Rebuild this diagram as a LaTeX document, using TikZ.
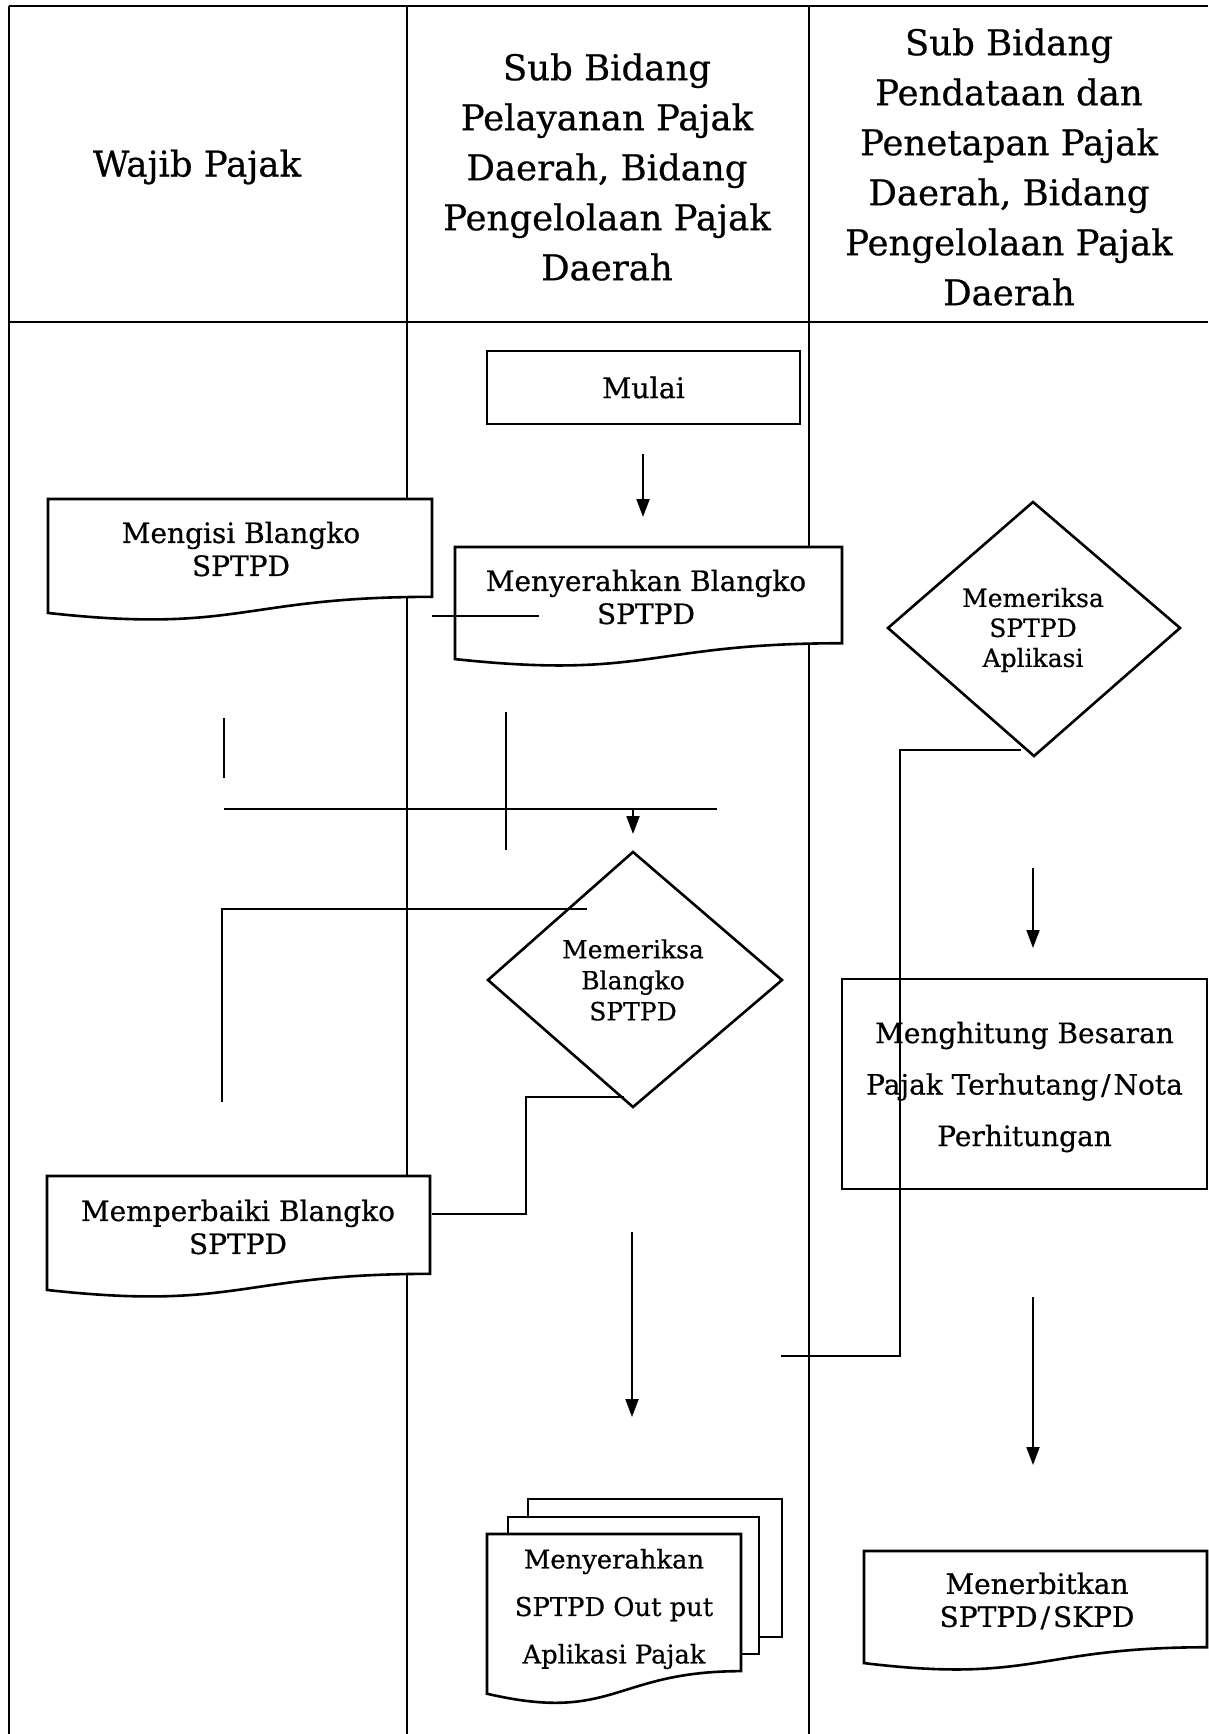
\documentclass[tikz,border=0pt]{standalone}
\usepackage{fontspec}
\setmainfont{DejaVu Serif}[FakeBold=0.6]
\usetikzlibrary{arrows.meta,calc}
\tikzset{
  lane/.style={line width=1.4pt},
  box/.style={line width=2.6pt, fill=white, line join=miter},
  conn/.style={line width=2pt},
  arr/.style={conn, -{Triangle[length=18pt,width=13pt]}},
  hdr/.style={align=center, inner sep=0pt, font=\fontsize{35.5}{50}\selectfont},
  txt/.style={align=center, inner sep=0pt, font=\fontsize{28}{33}\selectfont},
  dtxt/.style={align=center, inner sep=0pt, font=\fontsize{25}{31}\selectfont},
}
\newcommand{\sls}{\kern3pt/\kern3pt}
% document outline: x1, x2, top, h
\newcommand{\docshape}[4]{%
  \draw[box] (#1,#3) -- (#2,#3) -- (#2,{#3+0.802*#4})
    .. controls ({(#1+#2)/2},{#3+0.802*#4}) and ({(#1+#2)/2},{#3+1.107*#4}) ..
    (#1,{#3+0.934*#4}) -- cycle;}
\begin{document}
\begin{tikzpicture}[x=1pt,y=-1pt]
\useasboundingbox (0,0) rectangle (1208,1734);
\fill[white] (0,0) rectangle (1208,1734);

% swimlane table
\draw[lane] (9,6) -- (1208,6);
\draw[lane] (9,322) -- (1208,322);
\draw[lane] (9,6) -- (9,1734);
\draw[lane] (407,6) -- (407,1734);
\draw[lane] (809,6) -- (809,1734);

\node[hdr] (h1) at (197,167) {Wajib Pajak};
\node[hdr] (h2) at (607,167) {Sub Bidang\\Pelayanan Pajak\\Daerah, Bidang\\Pengelolaan Pajak\\Daerah};
\node[hdr] (h3) at (1009,167) {Sub Bidang\\Pendataan dan\\Penetapan Pajak\\Daerah, Bidang\\Pengelolaan Pajak\\Daerah};

% boxes
\node[draw, line width=2.8pt, fill=white, minimum width=313pt, minimum height=73pt, font=\fontsize{28.5}{33}\selectfont] (mulai) at (643.5,387.5) {Mulai};

\docshape{48}{432}{499}{122}
\node[txt] (mengisi) at (241,549) {Mengisi Blangko\\SPTPD};

\docshape{455}{842}{547}{120}
\node[txt] (serah) at (646,597) {Menyerahkan Blangko\\SPTPD};

\draw[box] (888,628) -- (1033,502) -- (1180,628) -- (1034,756) -- cycle;
\node[dtxt, font=\fontsize{25}{30}\selectfont] (cekapl) at (1033,630) {Memeriksa\\SPTPD\\Aplikasi};

\draw[box] (488,980) -- (633,852) -- (782,980) -- (633,1107) -- cycle;
\node[dtxt] (cekblg) at (633,980) {Memeriksa\\Blangko\\SPTPD};

\node[draw, line width=2.6pt, fill=white, minimum width=365pt, minimum height=210pt] (hitung) at (1024.5,1084) {};
\node[txt, font=\fontsize{28}{51.5}\selectfont] (hitungtxt) at (1024.5,1087) {Menghitung Besaran\\Pajak Terhutang\sls Nota\\Perhitungan};

\docshape{47}{430}{1176}{122}
\node[txt] (perbaiki) at (238,1227) {Memperbaiki Blangko\\SPTPD};

\draw[box] (528,1499) rectangle (782,1637);
\draw[box] (508,1517) rectangle (759,1654);
\docshape{487}{741}{1534}{171}
\node[txt, font=\fontsize{25.8}{47.5}\selectfont] (output) at (614,1609) {Menyerahkan\\SPTPD Out put\\Aplikasi Pajak};

\docshape{864}{1207}{1551}{120}
\node[txt] (terbit) at (1037,1601) {Menerbitkan\\SPTPD\sls SKPD};

% connectors
\coordinate (a1s) at (643,454); \coordinate (a1e) at (643,517);
\draw[arr] (a1s) -- (a1e);

\coordinate (l2s) at (432,616); \coordinate (l2e) at (539,616);
\draw[conn] (l2s) -- (l2e);

\coordinate (l3s) at (224,718); \coordinate (l3e) at (224,778);
\draw[conn] (l3s) -- (l3e);

\coordinate (l4s) at (506,712); \coordinate (l4e) at (506,850);
\draw[conn] (l4s) -- (l4e);

\coordinate (l5s) at (224,809); \coordinate (l5e) at (717,809);
\draw[conn] (l5s) -- (l5e);

\coordinate (a6s) at (633,809); \coordinate (a6e) at (633,834);
\draw[arr] (a6s) -- (a6e);

\coordinate (l7s) at (587,909); \coordinate (l7e) at (222,1102);
\draw[conn] (l7s) -- (l7s -| l7e) -- (l7e);

\coordinate (l8s) at (624,1097); \coordinate (l8m) at (526,1214); \coordinate (l8e) at (432,1214);
\draw[conn] (l8s) -- (l8s -| l8m) -- (l8m) -- (l8e);

\coordinate (a9s) at (632,1232); \coordinate (a9e) at (632,1417);
\draw[arr] (a9s) -- (a9e);

\coordinate (l10s) at (1021,750); \coordinate (l10m) at (900,1356); \coordinate (l10e) at (781,1356);
\draw[conn] (l10s) -- (l10s -| l10m) -- (l10m) -- (l10e);

\coordinate (a11s) at (1033,868); \coordinate (a11e) at (1033,948);
\draw[arr] (a11s) -- (a11e);

\coordinate (a12s) at (1033,1297); \coordinate (a12e) at (1033,1465);
\draw[arr] (a12s) -- (a12e);
\end{tikzpicture}
\end{document}
